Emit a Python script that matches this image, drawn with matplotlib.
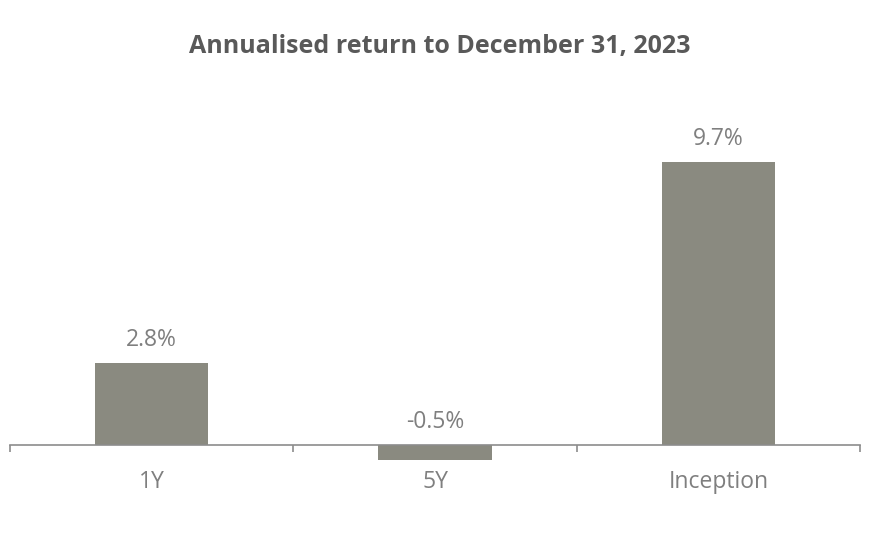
import matplotlib.pyplot as plt

# data
categories = ['1Y', '5Y', 'Inception']
returns = [2.8, -0.5, 9.7]
labels = ['2.8%', '-0.5%', '9.7%']

BAR_COLOR = '#8a8a80'
TEXT_COLOR = '#7f7f7f'
AXIS_COLOR = '#8c8c8c'

plt.rcParams['font.family'] = ['Open Sans', 'DejaVu Sans']

fig = plt.figure(figsize=(8.8, 5.33), dpi=100)
ax = fig.add_axes([10 / 880, 33 / 533, 850 / 880, 400 / 533])

x = range(len(categories))
ax.bar(x, returns, width=0.4, color=BAR_COLOR)

# value labels above each bar (or above the zero line for negatives)
for i, (v, lab) in enumerate(zip(returns, labels)):
    ax.annotate(lab, (i, max(v, 0)), xytext=(0, 8), textcoords='offset points',
                ha='center', va='bottom', fontsize=16.5, color=TEXT_COLOR)

ax.set_xlim(-0.5, 2.5)
ax.set_ylim(-1.88, 11.82)

# axis line at zero with boundary ticks
for s in ['top', 'right', 'left']:
    ax.spines[s].set_visible(False)
ax.spines['bottom'].set_position(('data', 0))
ax.spines['bottom'].set_color(AXIS_COLOR)
ax.spines['bottom'].set_linewidth(1.2)
ax.set_yticks([])
ax.set_xticks(list(x))
ax.set_xticklabels(categories, fontsize=16.5, color=TEXT_COLOR)
ax.tick_params(axis='x', which='major', length=0, pad=18)
ax.set_xticks([-0.5, 0.5, 1.5, 2.5], minor=True)
ax.tick_params(axis='x', which='minor', length=5, width=1.2, color=AXIS_COLOR, direction='out')

fig.text(0.5, 1 - 46 / 533, 'Annualised return to December 31, 2023', ha='center', va='center',
         fontsize=18, fontweight='bold', color='#595959')

fig.savefig('out.png', dpi=100)
